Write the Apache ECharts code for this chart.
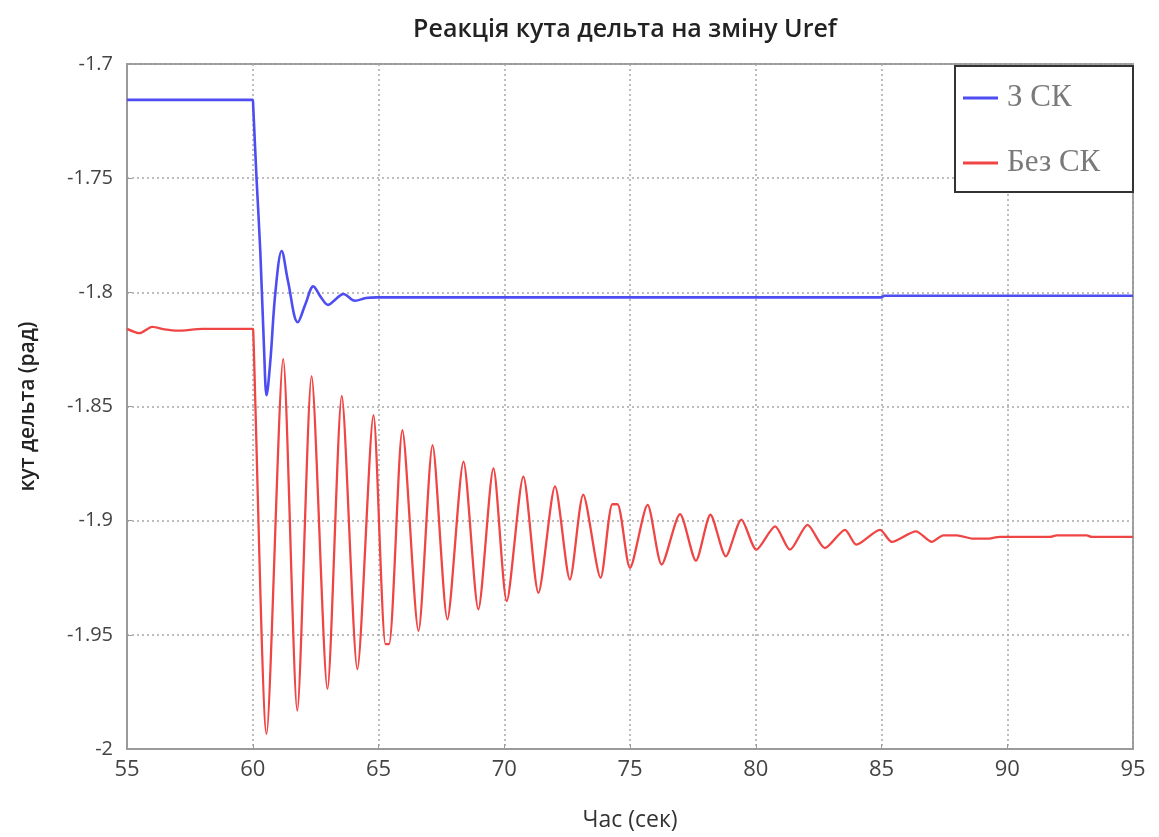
<!DOCTYPE html>
<html>
<head>
<meta charset="utf-8">
<script src="https://cdn.jsdelivr.net/npm/echarts@6/dist/echarts.min.js"></script>
<style>
html,body{margin:0;padding:0;background:#fff;}
#chart{width:1159px;height:837px;}
</style>
</head>
<body>
<div id="chart"></div>
<script>
const chartTitle = 'Реакція кута дельта на зміну Uref';
const xAxisName = 'Час (сек)';
const yAxisName = 'кут дельта (рад)';
const seriesNames = ['З СК', 'Без СК'];

const blueTime = [55, 60.0, 60.02, 60.15, 60.3, 60.45, 60.55, 60.7, 60.9, 61.15, 61.4, 61.79, 62.1, 62.41, 62.7, 63.0, 63.3, 63.6, 64.07, 64.5, 64.93, 85, 85.1, 95];
const blueValue = [-1.7157, -1.7157, -1.719, -1.75, -1.782, -1.825, -1.8451, -1.83, -1.80, -1.7819, -1.795, -1.8131, -1.805, -1.7974, -1.802, -1.8055, -1.803, -1.8007, -1.8037, -1.8025, -1.8022, -1.8022, -1.8015, -1.8015];

const redTime = [55, 55.5, 56, 56.5, 57, 58, 60, 60.02, 60.55, 61.21, 61.77, 62.34, 62.97, 63.54, 64.16, 64.8, 65.28, 65.42, 65.95, 66.59, 67.15, 67.74, 68.38, 68.97, 69.57, 70.1, 70.76, 71.36, 72.02, 72.61, 73.14, 73.83, 74.3, 74.5, 75.0, 75.7, 76.26, 76.99, 77.62, 78.2, 78.81, 79.43, 80.03, 80.77, 81.36, 82.06, 82.75, 83.55, 84.0, 84.94, 85.41, 86.37, 87.0, 87.46, 87.99, 88.65, 89.18, 89.71, 91.7, 91.97, 93.16, 93.36, 95];
const redValue = [-1.816, -1.8179, -1.8151, -1.8162, -1.8168, -1.816, -1.816, -1.817, -1.9934, -1.8291, -1.9832, -1.8367, -1.9737, -1.8454, -1.965, -1.8538, -1.9541, -1.9541, -1.8604, -1.9483, -1.8669, -1.9432, -1.8741, -1.9388, -1.8771, -1.9352, -1.8807, -1.9316, -1.885, -1.9258, -1.8886, -1.925, -1.8928, -1.8928, -1.9207, -1.8931, -1.9192, -1.8971, -1.9175, -1.8974, -1.9156, -1.8995, -1.9127, -1.9025, -1.9127, -1.9018, -1.912, -1.904, -1.9105, -1.904, -1.9093, -1.9047, -1.9093, -1.9064, -1.9064, -1.9079, -1.9079, -1.9071, -1.9071, -1.9064, -1.9064, -1.9071, -1.9071];

const xMin = 55, xMax = 95, xStep = 5;
const yMin = -2, yMax = -1.7, yStep = 0.05;

const zip = (a, b) => a.map((t, i) => [t, b[i]]);

const chart = echarts.init(document.getElementById('chart'), null, {renderer: 'canvas'});
const gridLine = {show: true, lineStyle: {color: '#a8a8a8', width: 1.5, type: [2, 3]}};
chart.setOption({
  animation: false,
  backgroundColor: '#ffffff',
  title: {
    text: chartTitle, left: 620, top: 12, textAlign: 'center',
    textStyle: {fontFamily: 'Open Sans', fontSize: 25, fontWeight: 600, color: '#222'}
  },
  grid: {left: 127, right: 26, top: 64, bottom: 85, show: true, borderColor: '#9a9a9a', borderWidth: 2},
  legend: {
    orient: 'vertical', left: 955, top: 66,
    padding: [14, 0, 11, 8], itemGap: 29,
    itemWidth: 35, itemHeight: 3, icon: 'rect',
    backgroundColor: '#fff', borderColor: '#333', borderWidth: 2,
    textStyle: {fontFamily: 'Liberation Serif', fontSize: 31, color: '#7a7a7a', lineHeight: 36, width: 126, padding: [0, 0, 0, 4]},
    data: seriesNames
  },
  xAxis: {
    type: 'value', min: xMin, max: xMax, interval: xStep,
    name: xAxisName, nameLocation: 'middle', nameGap: 60,
    nameTextStyle: {fontFamily: 'Open Sans', fontSize: 23, color: '#333'},
    axisLine: {show: true, onZero: false, lineStyle: {color: '#9a9a9a', width: 2}},
    axisTick: {show: true, inside: true, length: 5, lineStyle: {color: '#9a9a9a'}},
    axisLabel: {fontFamily: 'Open Sans', fontSize: 22, color: '#444', margin: 10},
    splitLine: gridLine
  },
  yAxis: {
    type: 'value', min: yMin, max: yMax, interval: yStep,
    name: yAxisName, nameLocation: 'middle', nameGap: 88,
    nameTextStyle: {fontFamily: 'Open Sans', fontSize: 21, fontWeight: 600, color: '#222'},
    axisLine: {show: true, onZero: false, lineStyle: {color: '#9a9a9a', width: 2}},
    axisTick: {show: true, inside: true, length: 5, lineStyle: {color: '#9a9a9a'}},
    axisLabel: {fontFamily: 'Open Sans', fontSize: 20, color: '#444', margin: 14,
      formatter: v => String(+v.toFixed(2))},
    splitLine: gridLine
  },
  series: [
    {name: seriesNames[0], type: 'line', data: zip(blueTime, blueValue), showSymbol: false, symbol: 'none',
     smooth: 0.35, lineStyle: {color: '#4d4df2', width: 2.6}, itemStyle: {color: '#4d4df2'}},
    {name: seriesNames[1], type: 'line', data: zip(redTime, redValue), showSymbol: false, symbol: 'none',
     smooth: 0.25, lineStyle: {color: '#f04545', width: 2.3}, itemStyle: {color: '#f04545'}}
  ]
});
</script>
</body>
</html>
